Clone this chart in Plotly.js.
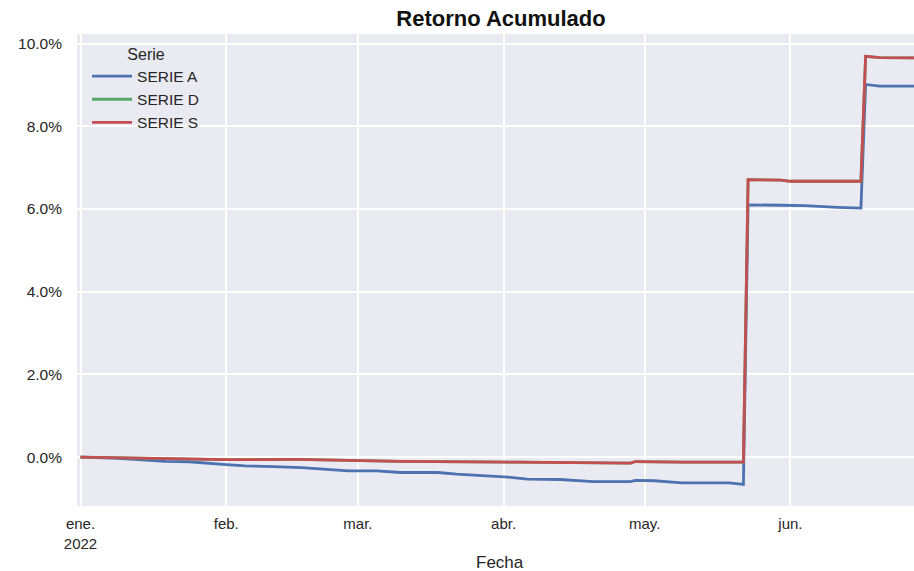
<!DOCTYPE html>
<html>
<head>
<meta charset="utf-8">
<script src="https://cdn.plot.ly/plotly-3.0.1.min.js"></script>
<style>html,body{margin:0;padding:0;background:#fff;}#chart{width:914px;height:571px;}</style>
</head>
<body>
<div id="chart"></div>
<script>
// Serie A (azul)
const datesA = ["2022-01-01","2022-01-09","2022-01-19","2022-01-24","2022-02-01","2022-02-05","2022-02-11","2022-02-17","2022-02-27","2022-03-05","2022-03-10","2022-03-18","2022-03-22","2022-03-26","2022-04-02","2022-04-06","2022-04-13","2022-04-20","2022-04-28","2022-04-29","2022-05-03","2022-05-09","2022-05-19","2022-05-22","2022-05-23","2022-05-30","2022-06-04","2022-06-11","2022-06-16","2022-06-17","2022-06-20","2022-06-30"];
const valuesA = [0.0000,-0.0003,-0.0010,-0.0011,-0.0018,-0.0021,-0.0023,-0.0025,-0.0033,-0.0033,-0.0037,-0.0037,-0.0041,-0.0043,-0.0048,-0.0053,-0.0054,-0.0059,-0.0059,-0.0056,-0.0057,-0.0062,-0.0062,-0.0066,0.0610,0.0609,0.0608,0.0604,0.0602,0.0901,0.0897,0.0897];

// Serie D y Serie S (idénticas)
const datesS = ["2022-01-01","2022-01-30","2022-02-01","2022-02-16","2022-02-27","2022-03-10","2022-04-04","2022-04-21","2022-04-28","2022-04-29","2022-05-09","2022-05-22","2022-05-23","2022-05-30","2022-06-01","2022-06-16","2022-06-17","2022-06-20","2022-06-30"];
const valuesD = [0.0000,-0.0004,-0.0006,-0.00055,-0.0008,-0.0010,-0.0012,-0.00145,-0.00145,-0.00105,-0.0012,-0.0012,0.0671,0.0670,0.0667,0.0667,0.0969,0.0966,0.0965];
const valuesS = [0.0000,-0.0004,-0.0006,-0.00055,-0.0008,-0.0010,-0.0012,-0.00145,-0.00145,-0.00105,-0.0012,-0.0012,0.0671,0.0670,0.0667,0.0667,0.0969,0.0966,0.0965];

const tickDates = ["2022-01-01","2022-02-01","2022-03-01","2022-04-01","2022-05-01","2022-06-01"];
const tickLabels = ["ene.<br>2022","feb.","mar.","abr.","may.","jun."];

const FONT = "Liberation Sans, Arial, Helvetica, sans-serif";
const TXT = "#262626";

const traces = [
  {x: datesA, y: valuesA, name: "SERIE A", mode: "lines", line: {color: "#4C72B0", width: 2.8}},
  {x: datesS, y: valuesD, name: "SERIE D", mode: "lines", line: {color: "#55A868", width: 2.8}},
  {x: datesS, y: valuesS, name: "SERIE S", mode: "lines", line: {color: "#C44E52", width: 2.8}}
];

const layout = {
  width: 914, height: 571,
  margin: {l: 77, r: 0, t: 34, b: 65, pad: 0},
  paper_bgcolor: "#ffffff",
  plot_bgcolor: "#EAEAF2",
  font: {family: FONT, color: TXT, size: 15},
  title: {text: "<b>Retorno Acumulado</b>", font: {family: FONT, size: 22, color: "#111"},
          x: 501/914, xref: "container", xanchor: "center", y: 1 - 18/571, yref: "container", yanchor: "middle"},
  xaxis: {
    type: "date",
    range: ["2021-12-31 06:00", "2022-06-27 07:00"],
    tickmode: "array", tickvals: tickDates, ticktext: tickLabels,
    showgrid: true, gridcolor: "#ffffff", gridwidth: 1.6,
    zeroline: false, showline: false, ticks: "",
    ticklabelstandoff: 7,
    tickfont: {size: 15, color: TXT}
  },
  yaxis: {
    range: [-0.0118, 0.1023],
    tickformat: ".1%", dtick: 0.02, tick0: 0,
    showgrid: true, gridcolor: "#ffffff", gridwidth: 1.6,
    zeroline: false, showline: false, ticks: "",
    ticklabelstandoff: 14,
    tickfont: {size: 15.5, color: TXT}
  },
  annotations: [
    {text: "Fecha", xref: "paper", yref: "paper", x: (500 - 77) / 837, y: -(561 - 505) / 471,
     xanchor: "center", yanchor: "middle", showarrow: false, font: {size: 17, color: TXT}}
  ],
  showlegend: true,
  legend: {
    x: 0.012, y: 0.99, xanchor: "left", yanchor: "top",
    bgcolor: "rgba(0,0,0,0)", borderwidth: 0,
    font: {size: 15.5, color: TXT},
    itemwidth: 40,
    title: {text: "Serie", side: "top center", font: {size: 16, color: TXT}},
    tracegroupgap: 0
  }
};

Plotly.newPlot("chart", traces, layout, {displayModeBar: false, responsive: false});
</script>
</body>
</html>
